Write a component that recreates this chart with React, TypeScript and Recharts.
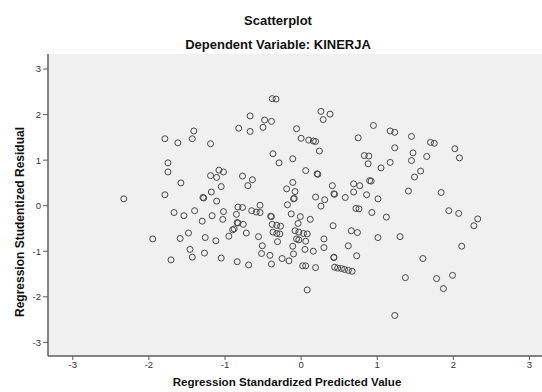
import { ScatterChart, Scatter, XAxis, YAxis, CartesianGrid } from 'recharts';

const xTicks = [-3, -2, -1, 0, 1, 2, 3];
const yTicks = [-3, -2, -1, 0, 1, 2, 3];

// Regression Standardized Predicted Value
const predicted = [
  -1.79, -1.62, -1.41, -1.43, -1.19, -1.75,
  -0.38, -0.33, -0.67, -0.48, -0.39, -0.82, -0.67, -0.5, 0.26, 0.38,
  0.29, -0.06, 0.0, 0.1, 0.16, 0.19, 0.24, -0.37, -0.29, -0.11,
  0.95, 0.75, 0.83, 0.89, 0.88,
  1.17, 1.23, 1.45, 1.7, 1.75, 1.23, 1.47, 2.02, 1.65, 2.08, 1.45, 1.17,
  -1.75, -1.58, -1.79, -2.33, -1.19, -1.11, -1.08, -1.02, -1.05, -1.18,
  -1.29, -1.28, -1.11, -1.67, -1.54, -1.4, -1.3, -1.17, -1.02, -1.03,
  -1.95, -1.59, -1.48, -1.26, -1.12, -1.46, -1.27, -1.43, -1.71, -1.05,
  1.05, 0.06, 0.21, 0.22, -0.77, -0.64, -0.7, -0.11, -0.19, -0.08,
  -0.1, -0.09, -0.18, 0.41, 0.43, 0.44, 0.19, 0.31, 0.26, 0.58,
  0.69, 0.77, 0.69, 0.86, 0.9, 0.92, 1.01, 0.72, 0.76, 0.93,
  -0.54, -0.83, -0.77, -0.65, -0.59, -0.54, -0.85, -0.4, -0.39, -0.84,
  -0.83, -0.76, -0.88, -0.9, -0.13, -0.01, 0.12, -0.04, -0.38, -0.32,
  -0.27, 0.42, -0.72, -0.95, -0.37, -0.32, -0.28, -0.56, -0.08, -0.03,
  0.03, 0.08, -0.06, -0.03, 0.06, -0.31, 0.3, 0.66, 0.74, 1.01,
  -0.51, -0.11, 0.3, 0.62, 0.05, 0.16, -0.52, -0.41, -0.1, -0.84,
  -0.69, -0.39, -0.25, -0.16, 0.43, 0.43, 0.73, 0.02, 0.06, 0.19,
  0.44, 0.48, 0.53, 0.57, 0.62, 0.67, 0.08,
  1.57, 1.49, 1.41, 1.84, 1.94, 2.07, 2.32, 2.27, 1.12, 1.3, 2.11, 1.6,
  1.37, 1.78, 1.99, 1.87, 1.23,
];

// Regression Studentized Residual
const residual = [
  1.47, 1.38, 1.64, 1.47, 1.36, 0.94,
  2.35, 2.34, 1.97, 1.88, 1.85, 1.7, 1.63, 1.72, 2.07, 2.01,
  1.89, 1.69, 1.48, 1.44, 1.42, 1.41, 1.2, 1.14, 0.94, 1.03,
  1.76, 1.49, 1.1, 1.09, 0.92,
  1.64, 1.61, 1.52, 1.39, 1.37, 1.27, 1.16, 1.25, 1.08, 1.05, 0.99, 0.95,
  0.74, 0.5, 0.24, 0.15, 0.66, 0.62, 0.78, 0.74, 0.42, 0.3,
  0.18, 0.17, 0.1, -0.15, -0.22, -0.11, -0.34, -0.22, -0.13, -0.3,
  -0.73, -0.72, -0.6, -0.7, -0.77, -0.96, -1.04, -1.13, -1.19, -1.15,
  0.83, 0.77, 0.7, 0.69, 0.65, 0.57, 0.44, 0.51, 0.37, 0.31,
  0.15, 0.16, 0.02, 0.44, 0.26, 0.25, 0.19, 0.13, -0.01, 0.18,
  0.48, 0.44, 0.3, 0.24, 0.55, 0.54, 0.15, -0.06, -0.07, -0.15,
  0.01, -0.03, -0.04, -0.11, -0.14, -0.15, -0.19, -0.23, -0.24, -0.37,
  -0.38, -0.41, -0.51, -0.53, -0.18, -0.24, -0.3, -0.39, -0.41, -0.43,
  -0.45, -0.44, -0.6, -0.67, -0.58, -0.61, -0.62, -0.68, -0.55, -0.58,
  -0.61, -0.62, -0.73, -0.75, -0.78, -0.79, -0.73, -0.55, -0.59, -0.7,
  -0.88, -0.89, -0.92, -0.88, -0.96, -1.0, -1.05, -1.09, -1.06, -1.23,
  -1.3, -1.28, -1.16, -1.21, -1.13, -1.14, -1.1, -1.32, -1.32, -1.36,
  -1.35, -1.37, -1.38, -1.4, -1.42, -1.44, -1.85,
  0.76, 0.63, 0.32, 0.29, -0.11, -0.17, -0.29, -0.44, -0.25, -0.68, -0.89, -1.16,
  -1.58, -1.6, -1.53, -1.82, -2.41,
];

const points = predicted.map((x, i) => ({ x, y: residual[i] }));

const Ring = (props: any) => (
  <circle cx={props.cx} cy={props.cy} r={3} fill="none" stroke="#474747" strokeWidth={1} />
);

const font = '"Liberation Sans", Arial, sans-serif';
const tickStyle = { fontSize: 9.5, fill: '#333', fontFamily: font };

export default function App() {
  return (
    <div style={{ position: 'absolute', left: 0, top: 0, width: 542, height: 392, overflow: 'hidden', background: '#fff', fontFamily: font }}>
      <div style={{ position: 'absolute', left: 0, width: 556, top: 13, textAlign: 'center', fontSize: 13, fontWeight: 'bold', color: '#111' }}>
        Scatterplot
      </div>
      <div style={{ position: 'absolute', left: 0, width: 556, top: 37, textAlign: 'center', fontSize: 13, fontWeight: 'bold', color: '#111' }}>
        Dependent Variable: KINERJA
      </div>
      <ScatterChart width={549} height={392} margin={{ top: 54, right: 0, bottom: 0, left: 0 }}>
        <CartesianGrid horizontal={false} vertical={false} fill="#f0f0f0" />
        <XAxis
          xAxisId="top"
          orientation="top"
          type="number"
          dataKey="x"
          domain={[-3.326, 3.257]}
          height={0}
          tick={false}
          tickLine={false}
          axisLine={{ stroke: '#5c5c5c', strokeWidth: 1.5 }}
        />
        <XAxis
          type="number"
          dataKey="x"
          domain={[-3.326, 3.257]}
          ticks={xTicks}
          height={36}
          tickSize={4}
          tickMargin={1}
          tick={tickStyle}
          stroke="#5c5c5c"
          axisLine={{ stroke: '#5c5c5c', strokeWidth: 1.5 }}
          allowDataOverflow
        />
        <YAxis
          type="number"
          dataKey="y"
          domain={[-3.3, 3.33]}
          ticks={yTicks}
          width={48}
          tickSize={5}
          tickMargin={2}
          tick={tickStyle}
          stroke="#5c5c5c"
          axisLine={{ stroke: '#5c5c5c', strokeWidth: 1.5 }}
          allowDataOverflow
        />
        <Scatter data={points} shape={Ring} isAnimationActive={false} />
        <Scatter data={points} xAxisId="top" shape={() => null} isAnimationActive={false} />
      </ScatterChart>
      <div style={{ position: 'absolute', left: 0, width: 574, top: 375, textAlign: 'center', fontSize: 11.6, fontWeight: 'bold', color: '#111' }}>
        Regression Standardized Predicted Value
      </div>
      <div
        style={{
          position: 'absolute',
          left: 20,
          top: 222,
          transform: 'translate(-50%, -50%) rotate(-90deg)',
          whiteSpace: 'nowrap',
          fontSize: 12,
          fontWeight: 'bold',
          color: '#111',
        }}
      >
        Regression Studentized Residual
      </div>
    </div>
  );
}
